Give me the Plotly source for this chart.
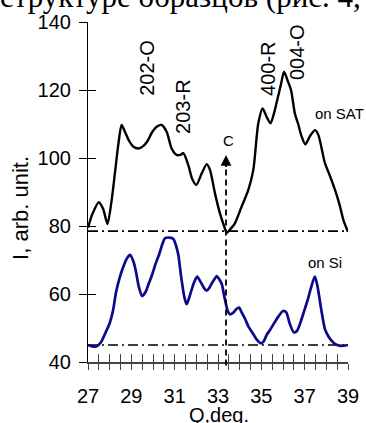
import plotly.graph_objects as go

# ---------------- data ----------------
sat_q = [27.0, 27.2, 27.5, 27.7, 27.9, 28.1, 28.25, 28.4, 28.55, 28.7, 28.9, 29.1, 29.32,
         29.55, 29.75, 29.95, 30.17, 30.4, 30.63, 30.86, 31.09, 31.25, 31.4, 31.63, 31.8,
         32.0, 32.25, 32.48, 32.63, 32.86, 33.09, 33.29, 33.4, 33.6, 33.78, 34.09, 34.4,
         34.63, 34.86, 35.06, 35.25, 35.42, 35.6, 35.75, 35.9, 36.05, 36.2, 36.37, 36.55,
         36.7, 36.85, 37.03, 37.25, 37.48, 37.63, 37.94, 38.15, 38.4, 38.6, 38.8, 39.0]
sat_i = [79.5, 83.5, 87.0, 85.0, 80.6, 88.0, 96.0, 104.0, 109.7, 107.8, 105.0, 103.3, 102.8,
         103.5, 105.0, 107.5, 109.2, 109.7, 107.7, 102.8, 100.9, 100.9, 101.4, 97.9, 94.0,
         92.1, 95.5, 98.2, 96.5, 89.6, 83.7, 79.8, 78.0, 79.3, 80.8, 85.7, 90.6,
         96.5, 110.2, 114.6, 112.0, 110.2, 113.5, 117.5, 121.5, 125.4, 123.0, 120.0, 113.0,
         110.0, 106.5, 104.0, 106.5, 108.2, 106.8, 98.4, 95.0, 90.6, 86.5, 81.5, 78.3]

si_q = [27.0, 27.2, 27.4, 27.6, 27.8, 28.0, 28.15, 28.3, 28.45, 28.6, 28.8, 28.94, 29.1,
        29.2, 29.35, 29.5, 29.65, 29.8, 29.95, 30.1, 30.3, 30.45, 30.55, 30.75, 30.94,
        31.05, 31.17, 31.3, 31.45, 31.55, 31.65, 31.78, 31.9, 32.04, 32.2, 32.35, 32.48,
        32.6, 32.71, 32.85, 32.94, 33.05, 33.17, 33.3, 33.45, 33.55, 33.7, 33.85, 33.97,
        34.1, 34.24, 34.4, 34.6, 34.8, 34.98, 35.1, 35.25, 35.4, 35.6, 35.8, 36.0, 36.15,
        36.3, 36.5, 36.65, 36.8, 37.0, 37.15, 37.3, 37.47, 37.6, 37.75, 37.94, 38.1,
        38.25, 38.4, 38.6, 38.8, 39.0]
si_i = [45.0, 44.6, 44.6, 45.8, 48.5, 51.4, 55.0, 60.7, 64.5, 67.5, 70.5, 71.5, 69.5,
        67.0, 62.0, 59.4, 60.5, 63.0, 65.5, 68.5, 72.0, 75.0, 76.4, 76.6, 76.2,
        74.5, 71.5, 65.0, 59.0, 57.0, 58.5, 61.2, 63.5, 65.1, 63.5, 61.8, 61.0,
        61.8, 63.1, 64.5, 65.3, 64.4, 63.0, 59.0, 55.0, 54.0, 54.5, 55.6, 56.0,
        54.5, 52.8, 50.5, 48.5, 46.5, 45.5, 46.0, 48.0, 49.4, 51.5, 53.5, 55.0, 54.6,
        51.5, 48.7, 49.2, 51.5, 55.5, 58.5, 62.0, 65.1, 62.0, 56.0, 49.6, 47.5,
        46.2, 45.3, 44.8, 44.8, 45.0]

baseline_sat = 78.5
baseline_si = 45.0
c_position = 33.37
c_arrow_top = 100.9

peak_labels = ["202-O", "203-R", "400-R", "004-O"]
peak_label_q = [29.72, 31.38, 35.31, 36.65]
peak_label_i = [126.5, 115.0, 126.2, 131.2]

x_tick_vals = [27, 29, 31, 33, 35, 37, 39]
y_tick_vals = [40, 60, 80, 100, 120, 140]

FONT = "Arial, 'Liberation Sans', sans-serif"

fig = go.Figure()

# baselines (dash-dot)
fig.add_trace(go.Scatter(x=[27, 39], y=[baseline_sat, baseline_sat], mode="lines",
                         line=dict(color="black", width=1.6, dash="10px,4px,2px,4px"),
                         showlegend=False, hoverinfo="skip"))
fig.add_trace(go.Scatter(x=[27, 39], y=[baseline_si, baseline_si], mode="lines",
                         line=dict(color="black", width=1.6, dash="10px,4px,2px,4px"),
                         showlegend=False, hoverinfo="skip"))

# curves
fig.add_trace(go.Scatter(x=sat_q, y=sat_i, mode="lines",
                         line=dict(color="black", width=2.4, shape="spline", smoothing=0.7),
                         showlegend=False))
fig.add_trace(go.Scatter(x=si_q, y=si_i, mode="lines",
                         line=dict(color="#0a0a8a", width=2.7, shape="spline", smoothing=0.7),
                         showlegend=False))

# invisible trace on overlay axes (for crossing ticks)
fig.add_trace(go.Scatter(x=[27, 39], y=[40, 140], mode="markers", xaxis="x2", yaxis="y2",
                         marker=dict(opacity=0), showlegend=False, hoverinfo="skip"))

# vertical dashed line at C
fig.add_shape(type="line", xref="x", yref="paper", x0=c_position, x1=c_position,
              y0=-0.01, y1=(c_arrow_top - 3 - 40) / 100,
              line=dict(color="black", width=1.8, dash="6px,4px"))
fig.add_annotation(x=c_position, y=c_arrow_top, ax=c_position, ay=c_arrow_top - 4,
                   xref="x", yref="y", axref="x", ayref="y", text="", showarrow=True,
                   arrowhead=2, arrowsize=1.2, arrowwidth=1.8, arrowcolor="black")
fig.add_annotation(x=33.5, y=105.2, text="C", showarrow=False, xref="x", yref="y",
                   font=dict(family=FONT, size=15, color="black"))

for lab, q, i in zip(peak_labels, peak_label_q, peak_label_i):
    fig.add_annotation(x=q, y=i, text=lab, textangle=-90, showarrow=False,
                       xref="x", yref="y", font=dict(family=FONT, size=20, color="black"))

fig.add_annotation(x=38.63, y=113.2, text="on SAT", showarrow=False, xref="x", yref="y",
                   font=dict(family=FONT, size=15, color="black"))
fig.add_annotation(x=37.96, y=69.4, text="on Si", showarrow=False, xref="x", yref="y",
                   font=dict(family=FONT, size=15, color="black"))

# axis titles as annotations (exact placement)
fig.add_annotation(x=0.504, y=-0.156, xref="paper", yref="paper", text="Q,deg.",
                   showarrow=False, xanchor="center", yanchor="middle",
                   font=dict(family=FONT, size=20, color="black"))
fig.add_annotation(x=-0.258, y=0.453, xref="paper", yref="paper", text="I, arb. unit.",
                   textangle=-90, showarrow=False, xanchor="center", yanchor="middle",
                   font=dict(family=FONT, size=22, color="black"))

# cut-off document text at top
fig.add_annotation(x=-0.348, y=1.018, xref="paper", yref="paper", xanchor="left",
                   yanchor="bottom", text="структуре образцов (рис. 4,", showarrow=False,
                   font=dict(family="'Liberation Serif', 'Times New Roman', serif", size=31,
                             color="black"))

axis_color = "#444"
fig.update_layout(
    width=366, height=423,
    margin=dict(l=88, r=18, t=22, b=61, pad=0, autoexpand=False),
    paper_bgcolor="white", plot_bgcolor="white",
    font=dict(family=FONT, size=20, color="black"),
    xaxis=dict(range=[27, 39], showgrid=False, zeroline=False, showline=True,
               automargin=False,
               linecolor=axis_color, linewidth=1.5, ticks="outside", ticklen=6,
               tickwidth=1.2, tickcolor=axis_color, tickvals=x_tick_vals,
               minor=dict(ticks="outside", dtick=0.5, tick0=27, ticklen=6, tickwidth=1.2,
                          tickcolor=axis_color, showgrid=False),
               tickfont=dict(family=FONT, size=20), ticklabelstandoff=9),
    xaxis2=dict(range=[27, 39], overlaying="x", anchor="y", showgrid=False, zeroline=False,
                showline=False, ticks="inside", ticklen=8, tickwidth=1.2, tickcolor=axis_color,
                dtick=0.5, tick0=27, showticklabels=False, automargin=False),
    yaxis=dict(range=[40, 140], showgrid=False, zeroline=False, showline=True,
               automargin=False,
               linecolor="black", linewidth=1.2, ticks="outside", ticklen=8,
               tickwidth=1.2, tickcolor="black", tickvals=y_tick_vals,
               tickfont=dict(family=FONT, size=20), ticklabelstandoff=4),
    yaxis2=dict(range=[40, 140], overlaying="y", anchor="x", showgrid=False, zeroline=False,
                showline=False, ticks="inside", ticklen=8, tickwidth=1.2, tickcolor="black",
                tickvals=y_tick_vals, showticklabels=False, automargin=False),
)

fig.write_html("out.html")
